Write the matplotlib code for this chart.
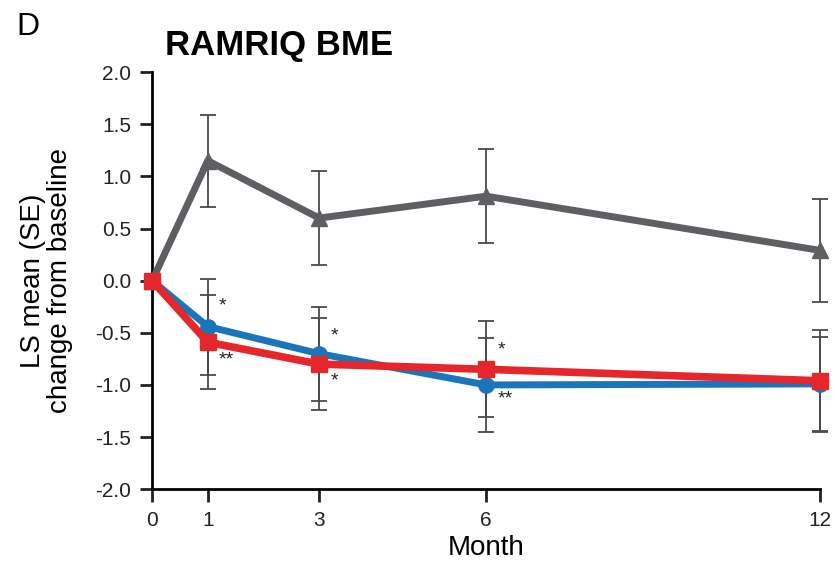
import matplotlib.pyplot as plt

months = [0, 1, 3, 6, 12]

gray_mean = [0.0, 1.15, 0.60, 0.81, 0.29]
gray_se = [0.0, 0.44, 0.45, 0.45, 0.49]

blue_mean = [0.0, -0.44, -0.70, -1.00, -0.99]
blue_se = [0.0, 0.46, 0.45, 0.45, 0.45]

red_mean = [0.0, -0.59, -0.80, -0.85, -0.96]
red_se = [0.0, 0.45, 0.44, 0.46, 0.49]

# significance marks: (month, y, text)
stars = [(1, -0.24, '*'), (1, -0.76, '**'),
         (3, -0.53, '*'), (3, -0.96, '*'),
         (6, -0.66, '*'), (6, -1.13, '**')]

plt.rcParams['font.family'] = ['Liberation Sans', 'DejaVu Sans']

fig = plt.figure(figsize=(8.36, 5.63), dpi=100)
ax = fig.add_axes([0.182, 0.131, 0.799, 0.741])

ebar = '#4a4a4a'
for m, s in [(gray_mean, gray_se), (blue_mean, blue_se), (red_mean, red_se)]:
    ax.errorbar(months[1:], m[1:], yerr=s[1:], fmt='none', ecolor=ebar,
                elinewidth=1.3, capsize=6, capthick=1.3, zorder=2, clip_on=False)

ax.plot(months, gray_mean, color='#5f5f63', lw=5, marker='^', ms=11,
        zorder=3, clip_on=False)
ax.plot(months, blue_mean, color='#1b75bb', lw=5, marker='o', ms=11,
        zorder=4, clip_on=False)
ax.plot(months, red_mean, color='#e5262b', lw=5.5, marker='s', ms=11,
        zorder=5, clip_on=False)

for mx, my, t in stars:
    ax.text(mx + 0.2, my, t, fontsize=14, ha='left', va='center', color='#222222')

ax.set_xlim(0, 12)
ax.set_ylim(-2, 2)
ax.set_xticks(months)
ax.set_yticks([2.0, 1.5, 1.0, 0.5, 0.0, -0.5, -1.0, -1.5, -2.0])
ax.set_yticklabels(['2.0', '1.5', '1.0', '0.5', '0.0', '-0.5', '-1.0', '-1.5', '-2.0'])
ax.spines['top'].set_visible(False)
ax.spines['right'].set_visible(False)
ax.spines['left'].set_linewidth(2)
ax.spines['bottom'].set_linewidth(2)
ax.tick_params(axis='both', width=2, length=9, labelsize=15, colors='#222222')
ax.tick_params(axis='x', pad=7)
ax.tick_params(axis='y', pad=6)

ax.set_xlabel('Month', fontsize=20, labelpad=3)
ax.set_ylabel('LS mean (SE)\nchange from baseline', fontsize=20, labelpad=16,
              linespacing=1.05)

fig.text(0.197, 0.92, 'RAMRIQ BME', fontsize=25, fontweight='bold',
         ha='left', va='center')
fig.text(0.02, 0.952, 'D', fontsize=23, ha='left', va='center')

fig.savefig('out.png', dpi=100)
